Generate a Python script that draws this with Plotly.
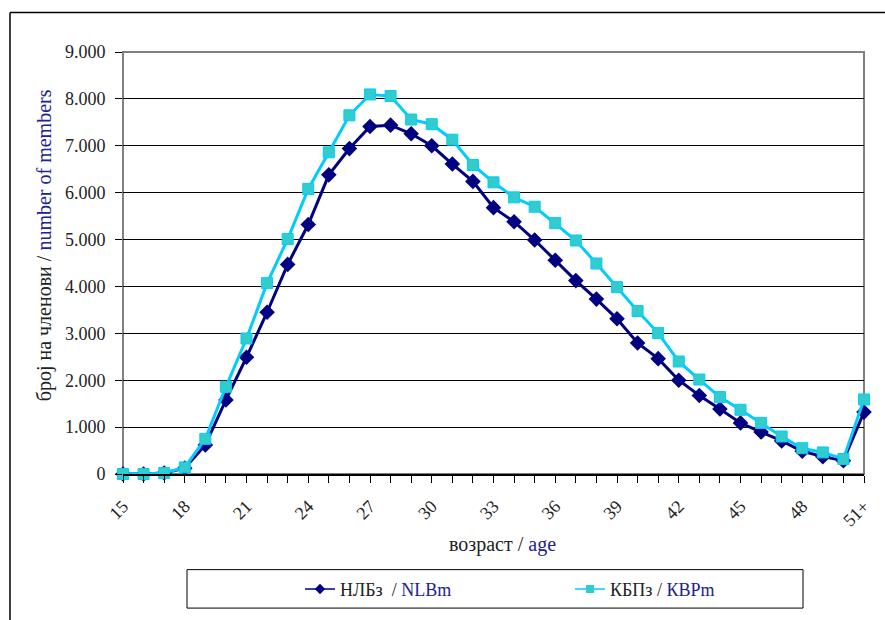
import plotly.graph_objects as go

ages = [str(a) for a in range(15, 51)] + ["51+"]
tick_labels = [a if i % 3 == 0 else "" for i, a in enumerate(ages)]

nlb = [0, 0, 20, 125, 620, 1580, 2490, 3450, 4470, 5320, 6380, 6940, 7410, 7440,
       7255, 7000, 6610, 6240, 5680, 5380, 4990, 4560, 4125, 3730, 3310, 2795,
       2460, 2000, 1675, 1385, 1090, 895, 705, 485, 370, 285, 1320]
kbp = [0, 0, 20, 140, 750, 1860, 2890, 4070, 5010, 6080, 6860, 7650, 8095, 8060,
       7560, 7460, 7130, 6590, 6220, 5900, 5700, 5350, 4980, 4490, 3985, 3475,
       3005, 2400, 2015, 1640, 1370, 1090, 800, 550, 460, 320, 1590]

FONT = "Liberation Serif"
BLUE = "#22228f"
NAME1 = f"НЛБз  / <span style='color:{BLUE}'>NLBm</span>"
NAME2 = f"КБПз / <span style='color:{BLUE}'>КВРm</span>"

fig = go.Figure()
fig.add_trace(go.Scatter(
    x=ages, y=nlb, mode="lines+markers", cliponaxis=False, showlegend=False,
    line=dict(color="#000080", width=3),
    marker=dict(symbol="diamond", size=12, color="#000080"),
))
fig.add_trace(go.Scatter(
    x=ages, y=kbp, mode="lines+markers", cliponaxis=False, showlegend=False,
    line=dict(color="#00CCFF", width=3),
    marker=dict(symbol="square", size=11, color="#33CCCC",
                line=dict(color="#00CCFF", width=1)),
))
# legend-only entries (thin lines, small markers as in the reference legend)
fig.add_trace(go.Scatter(
    x=[None], y=[None], mode="lines+markers", name=NAME1,
    line=dict(color="#000080", width=1.5),
    marker=dict(symbol="diamond", size=8, color="#000080"),
))
fig.add_trace(go.Scatter(
    x=[None], y=[None], mode="lines+markers", name=NAME2,
    line=dict(color="#00CCFF", width=1.5),
    marker=dict(symbol="square", size=8, color="#33CCCC"),
))

W, H = 885, 620
L, R, T, B = 123, 864, 52, 480
def px(x):
    return (x - L) / (R - L)
def py(y):
    return (B - y) / (B - T)

shapes = [
    dict(type="line", xref="paper", yref="paper", x0=px(10), x1=px(10), y0=py(12), y1=py(640),
         line=dict(color="black", width=1.5)),
    dict(type="line", xref="paper", yref="paper", x0=px(10), x1=px(900), y0=py(12), y1=py(12),
         line=dict(color="black", width=1.5)),
    dict(type="rect", xref="paper", yref="paper", x0=0, x1=1, y0=0, y1=1,
         line=dict(color="#808080", width=2), layer="below"),
    dict(type="rect", xref="paper", yref="paper", x0=px(187), x1=px(803), y0=py(577), y1=py(616),
         line=dict(color="black", width=1)),
]

fig.update_layout(
    width=W, height=H,
    margin=dict(l=L, r=W - R, t=T, b=H - B),
    plot_bgcolor="white", paper_bgcolor="white",
    separators=",.",
    font=dict(family=FONT, size=17, color="#222222"),
    shapes=shapes,
    showlegend=True,
    legend=dict(orientation="h", x=px(300), y=py(597), xanchor="left", yanchor="middle",
                entrywidth=225, entrywidthmode="pixels",
                font=dict(family=FONT, size=18, color="#222222"),
                bgcolor="rgba(0,0,0,0)", borderwidth=0),
    xaxis=dict(
        type="category", categoryorder="array", categoryarray=ages,
        range=[0, len(ages) - 1], autorange=False,
        tickmode="array", tickvals=ages, ticktext=tick_labels,
        tickangle=-45, ticks="outside", ticklen=7, tickcolor="black",
        ticklabelstandoff=6,
        showline=True, linecolor="black", linewidth=1.5,
        showgrid=False, zeroline=False,
        tickfont=dict(family=FONT, size=18, color="#222222"),
    ),
    yaxis=dict(
        range=[0, 9000], autorange=False, dtick=1000, tickformat=",d",
        ticks="outside", ticklen=7, tickcolor="black",
        ticklabelstandoff=6,
        showgrid=True, gridcolor="black", gridwidth=1,
        showline=False, zeroline=False,
        tickfont=dict(family=FONT, size=18, color="#222222"),
    ),
    annotations=[
        dict(text=f"број на членови / <span style='color:{BLUE}'>number of members</span>",
             xref="paper", yref="paper", x=px(44), y=py(248), textangle=-90,
             xanchor="center", yanchor="middle",
             showarrow=False, font=dict(family=FONT, size=20, color="#222222")),
        dict(text=f"возраст / <span style='color:{BLUE}'>age</span>",
             xref="paper", yref="paper", x=px(502), y=py(551),
             xanchor="center", yanchor="middle",
             showarrow=False, font=dict(family=FONT, size=20, color="#222222")),
    ],
)

fig.write_html("out.html", post_script="document.body.style.margin='0';",
               config={"displayModeBar": False})
